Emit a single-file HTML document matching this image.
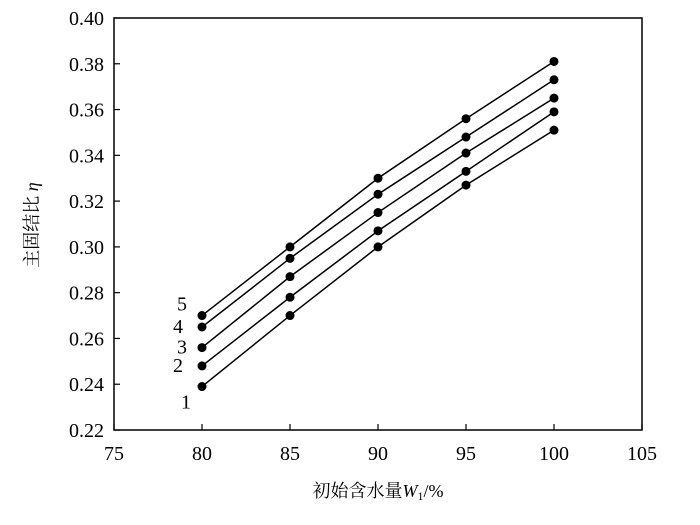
<!DOCTYPE html>
<html><head><meta charset="utf-8"><style>
body{margin:0;background:#fff;}
svg{display:block;font-family:"Liberation Serif","Noto Serif CJK SC",serif;}
</style></head><body>
<svg width="700" height="525">
<g id="axes"></g><g id="series"></g>
</svg>
<script>
const xTicks=[75,80,85,90,95,100,105];
const yTicks=[0.22,0.24,0.26,0.28,0.30,0.32,0.34,0.36,0.38,0.40];
const xValues=[80,85,90,95,100];
const s1=[0.239,0.270,0.300,0.327,0.351];
const s2=[0.248,0.278,0.307,0.333,0.359];
const s3=[0.256,0.287,0.315,0.341,0.365];
const s4=[0.265,0.295,0.323,0.348,0.373];
const s5=[0.270,0.300,0.330,0.356,0.381];
const seriesLabels=["1","2","3","4","5"];
const L=114,R=642,T=18,B=430;
const X=v=>L+(v-75)/30*(R-L);
const Y=v=>B-(v-0.22)/0.18*(B-T);
const NS="http://www.w3.org/2000/svg";
function mk(tag,attrs,parent){const e=document.createElementNS(NS,tag);for(const k in attrs)e.setAttribute(k,attrs[k]);parent.appendChild(e);return e;}
const ax=document.getElementById('axes');
const frame=mk('rect',{x:L,y:T,width:R-L,height:B-T,fill:'none',stroke:'#000','stroke-width':1.5},ax);


xTicks.forEach(t=>{
 const l=mk('line',{x1:X(t),x2:X(t),y1:B,y2:B-6,stroke:'#000','stroke-width':1.2},ax);
 
 
 const tx=mk('text',{x:X(t),y:B+30,'text-anchor':'middle','font-size':20},ax);
 tx.textContent=t;
 
 
});
yTicks.forEach(t=>{
 const l=mk('line',{x1:L,x2:L+6,y1:Y(t),y2:Y(t),stroke:'#000','stroke-width':1.2},ax);
 
 
 const tx=mk('text',{x:L-10,y:Y(t)+7,'text-anchor':'end','font-size':20},ax);
 tx.textContent=t.toFixed(2);
 
 
});
const xt=mk('text',{x:378,y:497,'text-anchor':'middle','font-size':18},ax);
xt.innerHTML='初始含水量<tspan font-style="italic">W</tspan><tspan font-size="12" dy="3">1</tspan><tspan dy="-3">/%</tspan>';


const yt=mk('text',{x:0,y:0,'text-anchor':'middle','font-size':18,transform:'translate(38,225) rotate(-90)'},ax);
yt.innerHTML='主固结比 <tspan font-style="italic">η</tspan>';


const sg=document.getElementById('series');
[s1,s2,s3,s4,s5].forEach((s,i)=>{
 const g=mk('g',{},sg);
 
 
 const p=mk('polyline',{points:s.map((v,j)=>X(xValues[j])+','+Y(v)).join(' '),fill:'none',stroke:'#000','stroke-width':1.5},g);
 
 
 s.forEach((v,j)=>{
  const c=mk('circle',{cx:X(xValues[j]),cy:Y(v),r:4.5,fill:'#000'},g);
  
  
 });
 const lb=mk('text',{x:X(xValues[0])-20-(i%2?4:0)+(i==0?4:0),y:Y(s[0])+ (i==0?22:i==4?-5:6),'text-anchor':'middle','font-size':20},g);
 lb.textContent=seriesLabels[i];
 
 
});
</script>
</body></html>
